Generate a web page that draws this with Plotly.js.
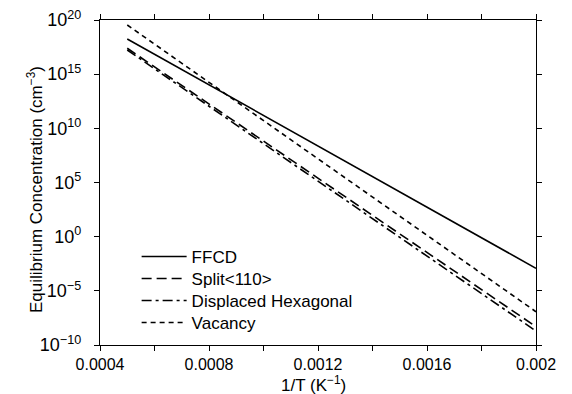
<!DOCTYPE html>
<html>
<head>
<meta charset="utf-8">
<script src="https://cdn.plot.ly/plotly-3.0.1.min.js"></script>
<style>html,body{margin:0;padding:0;background:#fff;}#chart{width:572px;height:394px;}</style>
</head>
<body>
<div id="chart"></div>
<script>
// 1/T endpoints (K^-1); the curves are straight lines on the log scale
const invT = [0.0005, 0.002];
// log10 of concentration (cm^-3) at those endpoints
const ffcdLog = [18.25, -2.92];
const split110Log = [17.39, -8.31];
const displacedHexLog = [17.23, -8.71];
const vacancyLog = [19.54, -6.93];
const seriesNames = ["FFCD", "Split<110>", "Displaced Hexagonal", "Vacancy"];
const xTickVals = [0.0004, 0.0008, 0.0012, 0.0016, 0.002];
const xTickText = ["0.0004", "0.0008", "0.0012", "0.0016", "0.002"];
const yTickExps = [-10, -5, 0, 5, 10, 15, 20];

const toVal = a => a.map(v => Math.pow(10, v));
const dashes = ["solid", "10px,5px", "10px,4px,3px,4px", "5px,4px"];
const legendIds = ["legend", "legend2", "legend3", "legend4"];
const series = [ffcdLog, split110Log, displacedHexLog, vacancyLog];
const traces = series.map((s, i) => ({
  x: invT, y: toVal(s), mode: "lines", name: seriesNames[i], legend: legendIds[i],
  line: {color: "#000", width: 1.6, dash: dashes[i]}
}));

const fam = "Liberation Sans, Arial, sans-serif";
const legendRowsPx = [257, 279, 301, 323];
const layout = {
  width: 572, height: 394,
  margin: {l: 100, r: 36, t: 20, b: 49},
  paper_bgcolor: "#fff", plot_bgcolor: "#fff",
  font: {family: fam, size: 17, color: "#000"},
  showlegend: true,
  xaxis: {
    range: [0.0004, 0.002], tickmode: "array", tickvals: xTickVals, ticktext: xTickText,
    showline: true, linecolor: "#000", linewidth: 1.2, mirror: "ticks",
    ticks: "outside", ticklen: 5, tickcolor: "#000", showgrid: false, zeroline: false,
    minor: {dtick: 0.0002, tick0: 0.0004, ticks: "outside", ticklen: 5, tickcolor: "#000", showgrid: false},
    tickfont: {family: fam, size: 16}
  },
  yaxis: {
    type: "log", range: [-10, 20],
    tickmode: "array", tickvals: yTickExps.map(e => Math.pow(10, e)),
    ticktext: yTickExps.map(e => "10<sup>" + (e < 0 ? "−" + (-e) : e) + "</sup>"),
    showline: true, linecolor: "#000", linewidth: 1.2, mirror: "ticks",
    ticks: "outside", ticklen: 5, tickcolor: "#000", showgrid: false, zeroline: false,
    ticklabelstandoff: 9,
    tickfont: {family: fam, size: 18}
  },
  annotations: [{
    text: "Equilibrium Concentration (cm<sup>−3</sup>)", textangle: -90,
    xref: "paper", yref: "paper", x: -65 / 436, y: (345 - 190) / 325,
    xanchor: "center", yanchor: "middle", showarrow: false,
    font: {family: fam, size: 17, color: "#000"}
  }, {
    text: "1/T (K<sup>−1</sup>)",
    xref: "paper", yref: "paper", x: 0.49, y: (345 - 371) / 325,
    xanchor: "center", yanchor: "top", showarrow: false,
    font: {family: fam, size: 17, color: "#000"}
  }]
};
legendIds.forEach((id, i) => {
  layout[id] = {x: 0.084, y: (345 - legendRowsPx[i]) / 325, xanchor: "left", yanchor: "middle",
                bgcolor: "rgba(0,0,0,0)", font: {family: fam, size: 17}, itemwidth: 45};
});
Plotly.newPlot("chart", traces, layout, {displayModeBar: false, staticPlot: true});
</script>
</body>
</html>
